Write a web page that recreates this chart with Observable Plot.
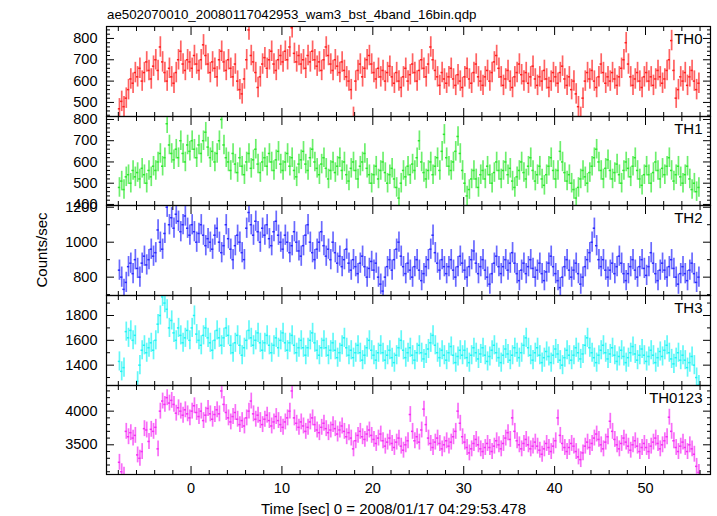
<!DOCTYPE html>
<html><head><meta charset="utf-8">
<script src="https://cdn.jsdelivr.net/npm/d3@7"></script>
<script src="https://cdn.jsdelivr.net/npm/@observablehq/plot@0.6"></script>
<style>
body{margin:0;background:#fff;}
#chart{position:relative;width:717px;height:516px;background:#fff;font-family:"Liberation Sans",Arial,Helvetica,sans-serif;color:#000;overflow:hidden}
#chart svg{position:absolute;left:0;background:transparent}
.title{position:absolute;left:107px;top:7px;font-size:13.3px;line-height:16px;white-space:nowrap}
.xlabel{position:absolute;left:261px;top:500px;font-size:15px;line-height:17px;white-space:nowrap}
.ylabel{position:absolute;left:41px;top:250px;font-size:15px;line-height:17px;white-space:nowrap;transform:translate(-50%,-50%) rotate(-90deg)}
</style></head><body><div id="chart"></div>
<script>
const titleText = "ae502070010_20080117042953_wam3_bst_4band_16bin.qdp";
const xLabelText = "Time [sec] 0 = 2008/01/17 04:29:53.478";
const yLabelText = "Counts/sec";
const panelNames = ["TH0", "TH1", "TH2", "TH3", "TH0123"];
const tStart = -8, binWidth = 0.25;
const xTicks = [0, 10, 20, 30, 40, 50];

const th0 = [
470,505,480,520,560,610,590,640, 620,660,600,640,690,650,610,670,
700,650,760,690,640,600,660,620, 590,640,700,740,680,650,700,690,
660,720,680,650,700,770,720,680, 640,690,660,620,700,740,690,650,
700,660,620,680,600,560,540,610, 700,840,720,690,640,570,620,680,
710,660,700,740,680,650,700,720, 690,740,700,760,850,730,690,720,
680,700,660,720,690,740,700,670, 690,650,700,760,720,680,650,700,
670,640,690,650,620,600,560,430, 600,650,680,620,660,700,720,680,
640,610,660,620,650,600,640,670, 620,590,640,600,570,620,660,600,
630,680,640,600,650,700,660,620, 680,760,700,650,620,580,640,610,
590,620,660,610,580,630,600,570, 620,660,610,590,640,680,620,600,
580,620,650,600,640,690,720,660, 620,580,610,650,600,570,620,640,
680,630,600,640,590,620,670,610, 580,620,600,650,610,570,600,640,
620,590,640,670,610,580,620,560, 600,540,480,430,520,600,640,610,
650,600,570,620,680,640,590,620, 600,640,610,580,620,660,700,780,
680,620,580,610,640,600,570,620, 640,600,620,580,610,650,620,590,
610,650,700,790,650,520,560,620, 600,640,580,620,650,600,560,590];

const th1 = [
480,510,470,530,540,500,560,530, 550,520,570,540,500,560,530,580,
560,600,640,580,620,780,680,640, 610,660,620,700,640,600,680,650,
700,660,620,680,640,700,740,670, 620,650,600,640,700,800,680,620,
600,560,640,590,550,620,580,540, 600,640,570,610,660,590,550,600,
620,580,640,600,560,610,650,590, 560,600,640,580,620,560,530,590,
610,650,590,560,620,660,600,570, 540,590,620,570,520,560,600,550,
580,620,560,600,540,510,570,600, 560,520,580,600,640,570,540,500,
540,580,520,560,600,550,500,540, 570,520,480,430,500,560,530,580,
540,590,560,620,700,600,550,520, 560,600,540,580,620,560,650,730,
620,580,560,600,650,720,640,560, 500,440,470,520,560,520,480,540,
560,520,580,540,500,550,600,560, 520,560,600,540,570,510,480,530,
560,600,550,520,580,620,560,510, 540,580,520,490,540,580,620,560,
520,560,650,600,550,510,540,500, 470,430,480,520,560,530,500,550,
580,620,660,600,560,520,570,610, 560,520,550,590,540,500,560,600,
570,530,580,620,560,520,490,540, 580,540,500,550,600,560,520,570,
540,580,620,560,510,540,580,530, 500,540,580,520,470,500,460,480];

const th2 = [
840,800,730,770,860,880,820,900, 850,800,880,920,870,900,960,920,
940,1070,1000,960,1050,1200,1100,1140, 1080,1160,1120,1060,1100,1150,1080,1040,
1100,1060,1000,1050,1100,1040,980,1020, 1000,960,1040,1080,1000,940,980,1100,
1020,960,900,980,1040,1000,940,900, 1080,1170,1100,1040,1120,1060,1000,1080,
1040,1100,1020,980,1060,1120,1040,1000, 960,1040,1000,940,980,1060,1000,950,
920,980,1040,1100,1000,940,900,960, 1000,1060,980,920,960,900,1000,940,
880,920,860,900,960,880,840,900, 860,820,880,920,860,800,850,890,
840,880,800,760,720,800,860,900, 840,900,960,1000,920,860,820,880,
840,800,860,900,840,780,820,860, 900,960,1040,940,880,840,900,860,
820,860,900,840,800,860,920,880, 840,800,860,900,950,880,820,860,
900,840,800,760,820,880,920,860, 820,860,900,840,880,940,880,820,
780,840,880,820,860,900,850,800, 840,880,820,780,830,880,920,860,
820,780,740,800,860,900,840,800, 840,880,820,760,800,860,900,940,
1000,1080,980,900,860,900,840,800, 840,880,820,860,920,880,820,780,
820,860,900,840,800,860,900,850, 810,860,940,880,820,780,840,880,
840,800,860,900,850,800,760,820, 860,820,780,840,880,820,770,800];

const th3 = [
1430,1350,1380,1670,1620,1680,1600,1640, 1270,1400,1520,1560,1500,1540,1580,1520,
1600,1730,1800,1950,1900,1850,1700,1760, 1660,1600,1700,1640,1580,1620,1680,1600,
1700,1800,1650,1600,1560,1640,1700,1620, 1580,1520,1600,1680,1620,1560,1620,1700,
1640,1560,1500,1580,1640,1560,1480,1540, 1600,1680,1620,1560,1600,1660,1580,1520,
1580,1640,1560,1500,1560,1620,1540,1600, 1660,1580,1520,1580,1640,1560,1500,1540,
1600,1540,1480,1540,1600,1660,1580,1520, 1480,1540,1600,1540,1480,1520,1580,1520,
1460,1500,1560,1620,1540,1480,1520,1460, 1500,1560,1500,1440,1480,1540,1600,1520,
1480,1440,1500,1560,1500,1440,1480,1520, 1460,1420,1480,1540,1600,1520,1460,1500,
1540,1480,1440,1500,1560,1500,1450,1490, 1530,1580,1640,1560,1500,1460,1520,1480,
1440,1500,1550,1480,1420,1470,1520,1480, 1520,1460,1420,1480,1540,1500,1450,1490,
1540,1480,1430,1470,1520,1560,1500,1460, 1420,1480,1530,1490,1440,1480,1540,1500,
1460,1500,1560,1620,1540,1480,1440,1500, 1540,1480,1420,1460,1510,1470,1420,1480,
1530,1490,1440,1400,1460,1520,1480,1440, 1480,1540,1500,1450,1490,1560,1620,1540,
1500,1460,1420,1480,1520,1560,1500,1450, 1490,1540,1480,1430,1470,1520,1470,1420,
1460,1500,1550,1490,1440,1480,1530,1480, 1430,1470,1520,1480,1420,1460,1510,1470,
1520,1560,1500,1450,1410,1460,1500,1440, 1480,1440,1380,1420,1470,1400,1300,1240];

const th0123 = [
3240,3100,3050,3700,3620,3680,3600,3640, 3350,3300,3400,3740,3720,3550,3730,3700,
3760,3440,4000,4150,4100,4200,4120,4160, 4100,3970,4050,4000,3940,4020,3960,3900,
4000,4080,3980,3920,4000,3860,3940,4040, 3960,3880,3950,4020,3960,4300,4100,3980,
3900,3840,3920,3980,3880,3800,3860,3780, 3900,4000,4150,3960,3880,3940,3860,3800,
3880,3940,3860,3780,3840,3920,3860,3800, 3760,3840,3900,4000,4300,3900,3820,3760,
3840,3780,3700,3760,3840,3900,3800,3720, 3680,3760,3820,3740,3680,3720,3800,3740,
3660,3720,3780,3700,3620,3680,3600,3440, 3560,3640,3700,3620,3580,3660,3720,3640,
3580,3520,3600,3660,3560,3480,3540,3600, 3520,3460,3540,3600,3480,3420,3500,3560,
3950,3700,3560,3620,3540,3720,4030,3800, 3600,3520,3460,3540,3600,3520,3440,3500,
3560,3480,3540,3620,3700,4000,3820,3620, 3540,3460,3380,3440,3520,3580,3500,3440,
3400,3460,3520,3460,3400,3480,3560,3500, 3440,3520,3600,3680,3580,3900,3700,3560,
3500,3440,3520,3580,3500,3440,3480,3540, 3480,3420,3360,3440,3520,3460,3400,3480,
3560,3900,3640,3520,3460,3400,3460,3520, 3480,3400,3320,3280,3380,3480,3540,3460,
3520,3600,3660,3580,3500,3440,3540,3620, 3850,3700,3580,3500,3440,3520,3600,3540,
3480,3420,3500,3560,3480,3400,3460,3520, 3460,3400,3480,3540,3600,3520,3440,3500,
3560,3620,3910,3700,3560,3460,3400,3480, 3540,3460,3400,3500,3440,3360,3180,3090];

const seriesValues = [th0, th1, th2, th3, th0123];
const seriesErrors = [48, 46, 58, 77, 118];
const seriesColors = ["#ff1f1f", "#2fe82f", "#2a2aff", "#1ff5f5", "#f52ff5"];
const yDomains = [[434, 856], [395, 814], [695, 1210], [1236, 1961], [3059, 4381]];
const yTicksMajor = [[500, 600, 700, 800], [400, 500, 600, 700, 800], [800, 1000, 1200], [1400, 1600, 1800], [3500, 4000]];
const yMinorSteps = [20, 20, 100, 100, 100];

const chart = document.getElementById("chart");
const addDiv = (cls, txt) => { const d = document.createElement("div"); d.className = cls; d.textContent = txt; chart.appendChild(d); };
addDiv("title", titleText);

const W = 717, ML = 106, MR = 7;
const xDomain = [-9.3, 57.15];
const panelTops = [26, 116, 205, 295, 385], panelBottom = 474;
const xMinor = d3.range(-8, 57.1, 2).filter(d => !xTicks.includes(d));
const font = '"Liberation Sans", Arial, Helvetica, sans-serif';

seriesValues.forEach((vals, i) => {
  const top = panelTops[i];
  const bot = i < 4 ? panelTops[i + 1] : panelBottom;
  const last = i === 4;
  const extra = last ? 34 : 0;
  const h = bot - top + 2 + extra;
  const err = seriesErrors[i];
  const dom = yDomains[i];
  const data = vals.map((v, k) => ({
    t0: tStart + k * binWidth, t1: tStart + (k + 1) * binWidth, tc: tStart + (k + 0.5) * binWidth,
    v, lo: v - err, hi: v + err
  }));
  const major = yTicksMajor[i].filter(d => d >= dom[0] && d <= dom[1]);
  const step = yMinorSteps[i];
  const minor = d3.range(Math.ceil(dom[0] / step) * step, dom[1], step).filter(d => !yTicksMajor[i].includes(d));
  const marks = [
    Plot.ruleX(data, {x: "tc", y1: "lo", y2: "hi", stroke: seriesColors[i], strokeOpacity: 0.7, strokeWidth: 1.7, clip: true}),
    Plot.ruleY(data, {y: "v", x1: "t0", x2: "t1", stroke: seriesColors[i], strokeWidth: 1.5, clip: true}),
    Plot.axisY({anchor: "left", ticks: yTicksMajor[i], tickSize: 0, tickPadding: 9, tickFormat: d => String(d), label: null}),
    Plot.axisY({anchor: "left", ticks: major, tickSize: -8, fill: "none", label: null}),
    Plot.axisY({anchor: "left", ticks: minor, tickSize: -4, fill: "none", label: null}),
    Plot.axisY({anchor: "right", ticks: major, tickSize: -8, fill: "none", label: null}),
    Plot.axisY({anchor: "right", ticks: minor, tickSize: -4, fill: "none", label: null}),
    Plot.axisX({anchor: "top", ticks: xTicks, tickSize: -8, fill: "none", label: null}),
    Plot.axisX({anchor: "top", ticks: xMinor, tickSize: -4, fill: "none", label: null}),
    Plot.axisX({anchor: "bottom", ticks: xTicks, tickSize: -8, fill: "none", label: null}),
    Plot.axisX({anchor: "bottom", ticks: xMinor, tickSize: -4, fill: "none", label: null}),
    Plot.frame({stroke: "#000", strokeWidth: 1.2}),
    Plot.text([panelNames[i]], {text: d => d, frameAnchor: "top-right", lineAnchor: "top", dx: -8, dy: 7, fontSize: 15, fill: "#000"})
  ];
  if (last) marks.push(Plot.axisX({anchor: "bottom", ticks: xTicks, tickSize: 0, tickPadding: 8, label: null}));
  const svg = Plot.plot({
    width: W, height: h,
    marginLeft: ML, marginRight: MR, marginTop: 1, marginBottom: 1 + extra,
    style: {background: "transparent", fontFamily: font, fontSize: "14.5px", color: "#000", overflow: "visible"},
    x: {domain: xDomain},
    y: {domain: dom},
    marks
  });
  svg.style.top = (top - 1) + "px";
  chart.appendChild(svg);
});

addDiv("xlabel", xLabelText);
addDiv("ylabel", yLabelText);
</script></body></html>
